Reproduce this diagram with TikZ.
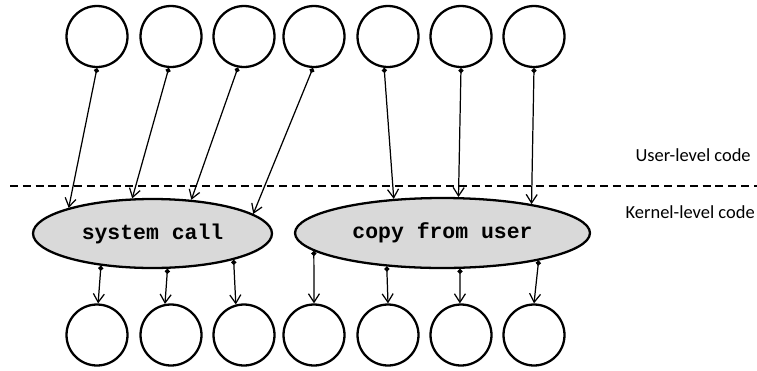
\documentclass[tikz,border=0pt]{standalone}
\usepackage{fontspec}
\setmainfont{Carlito}
\setmonofont{Liberation Mono}
\usetikzlibrary{arrows.meta,shapes.geometric}
\tikzset{
  thr/.style={draw,circle,line width=1.3pt,minimum size=1.22cm,inner sep=0pt},
  kfun/.style={draw,ellipse,line width=1.3pt,fill=black!15,inner sep=0pt,
    font=\ttfamily\bfseries\fontsize{12.2}{14}\selectfont},
  fl/.style={{Circle[length=1mm]}-{Straight Barb[length=1.7mm,width=2.2mm]},line width=0.7pt},
  lbl/.style={font=\fontsize{10.5}{12}\selectfont,anchor=east,inner sep=0pt},
}

\begin{document}
\begin{tikzpicture}[x=0.02cm,y=0.02cm]
  \useasboundingbox (0,0) rectangle (757,370);
  % threads above and below
  \foreach \i/\x in {1/97,2/171,3/244,4/314,5/388,6/461,7/534}{
    \node[thr] (u\i) at (\x,333.5) {};
    \node[thr] (d\i) at (\x,35) {};
  }
  \node[kfun,minimum width=4.78cm,minimum height=1.38cm] (sc) at (152.5,136.5) {system call};
  \node[kfun,minimum width=5.9cm,minimum height=1.4cm] (cu) at (442.5,137) {copy from user};
  \draw[line width=0.7pt,dash pattern=on 4.5pt off 2.8pt] (10,184) -- (757,184);
  \node[lbl] (ul) at (751,215) {User-level code};
  \node[lbl] (kl) at (755,158) {Kernel-level code};
  % calls into the kernel
  \foreach \i/\e/\a/\b in {1/sc/270/163,2/sc/266/120,3/sc/259/41,4/sc/268/11,5/cu/263/145,6/cu/270/66,7/cu/270/18}
    \draw[fl] (u\i.\a) -- (\e.\b);
  % returns
  \foreach \i/\e/\a/\b in {1/sc/212/88,2/sc/-67/101,3/sc/-18/105,4/cu/188/90,5/cu/211/90,6/cu/-64/92,7/cu/-16/90}
    \draw[fl] (\e.\a) -- (d\i.\b);
\end{tikzpicture}
\end{document}
